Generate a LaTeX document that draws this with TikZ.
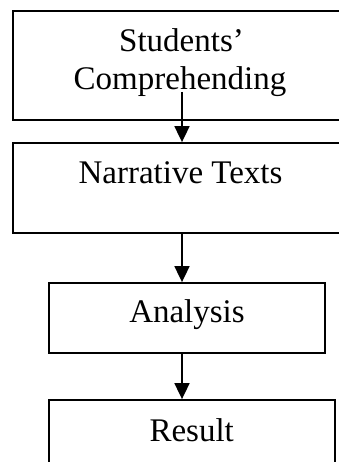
\documentclass[tikz,border=0pt]{standalone}
\usepackage{fontspec}
\setmainfont{Liberation Serif}
\usetikzlibrary{arrows.meta}
\begin{document}
\begin{tikzpicture}[x=1pt,y=-1pt,
  box/.style={draw=black, line width=1.8pt, inner sep=0pt, minimum width=#1},
  txt/.style={anchor=base, inner sep=0pt, font=\fontsize{33}{38}\selectfont},
  flow/.style={draw=black, line width=1.8pt, -{Triangle[width=15pt,length=16pt]}}]
\useasboundingbox (0,0) rectangle (339,462);
\clip (0,0) rectangle (339,462);
\fill[white] (0,0) rectangle (339,462);
% boxes
\node[box=335pt, minimum height=109pt] (b1) at (180.5,65.5) {};
\node[box=335pt, minimum height=90pt] (b2) at (180.5,188) {};
\node[box=276pt, minimum height=70pt] (b3) at (187,318) {};
\node[box=286pt, minimum height=100pt] (b4) at (192,450) {};
% texts
\node[txt] (t1) at (181.5,52) {Students’};
\node[txt] (t2) at (180,89.5) {Comprehending};
\node[txt] (t3) at (180.5,183.5) {Narrative Texts};
\node[txt] (t4) at (187,322) {Analysis};
\node[txt] (t5) at (191.7,441.5) {Result};
% connectors
\coordinate (a1s) at (182,92);
\draw[flow] (a1s) -- (b2.north -| a1s);
\draw[flow] (b2.south -| a1s) -- (b3.north -| a1s);
\draw[flow] (b3.south -| a1s) -- (b4.north -| a1s);
\end{tikzpicture}
\end{document}
